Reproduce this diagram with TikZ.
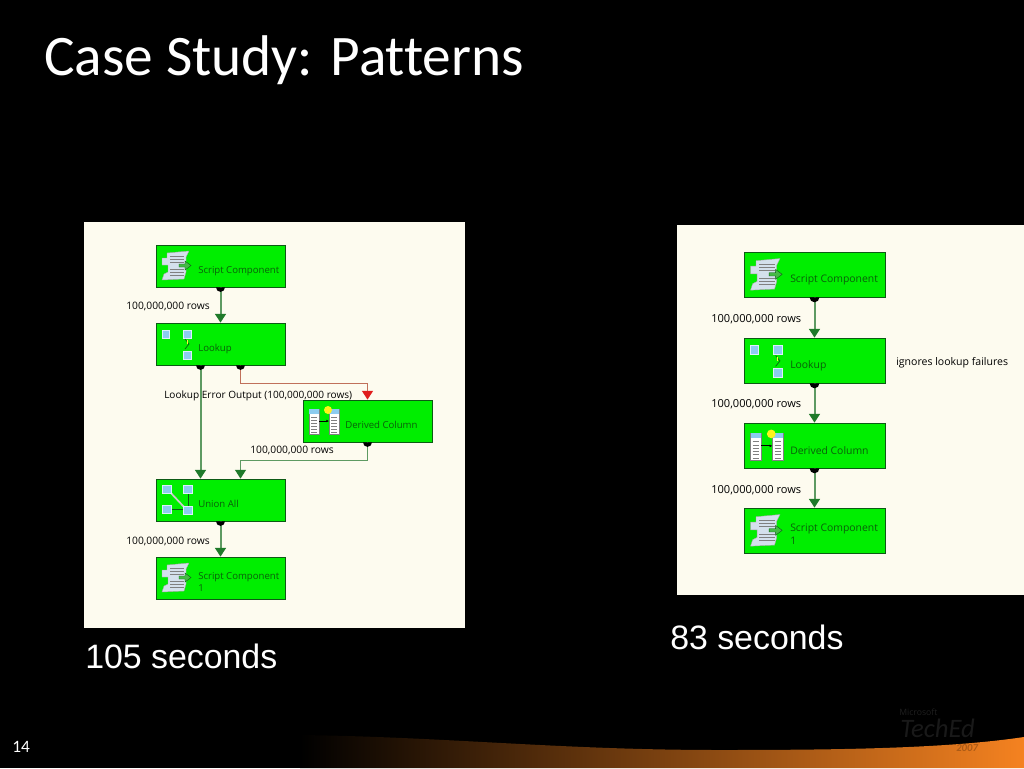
\documentclass[tikz,border=0pt]{standalone}
\usepackage{fontspec}
\setmainfont{Open Sans}
\newfontfamily\titlefont[Ligatures=NoCommon]{Carlito}
\newfontfamily\capfont{Liberation Sans}
\usetikzlibrary{arrows.meta}
\definecolor{panel}{HTML}{FDFBEF}
\definecolor{boxgreen}{HTML}{00EE00}
\definecolor{boxline}{HTML}{0C5A14}
\definecolor{boxtext}{HTML}{0B5E0B}
\definecolor{linegreen}{HTML}{5E9A62}
\definecolor{tipgreen}{HTML}{1F7A2A}
\definecolor{linered}{HTML}{C0705A}
\definecolor{tipred}{HTML}{E01E1E}
\definecolor{swoosh}{HTML}{F58220}
\definecolor{cube}{HTML}{8CCCF0}
\definecolor{scroll}{HTML}{D4E0EC}
\tikzset{
  box/.style={draw=boxline,fill=boxgreen,line width=0.55pt,minimum width=96.75pt,minimum height=31.5pt,inner sep=0pt},
  bigbox/.style={box,minimum width=105.75pt,minimum height=33.75pt},
  boxname/.style={anchor=west,inner sep=0pt,align=left,text=boxtext,font=\fontsize{7.2}{9.4}\selectfont},
  bigboxname/.style={boxname,font=\fontsize{7.8}{10}\selectfont},
  rowcount/.style={anchor=west,inner sep=0pt,text=black,font=\fontsize{7.7}{9}\selectfont},
  bigrowcount/.style={rowcount,font=\fontsize{8.3}{10}\selectfont},
  flow/.style={draw=linegreen,line width=1.5pt,-{Triangle[tipgreen,width=8pt,length=6.5pt]}},
  errflow/.style={draw=linered,line width=1.3pt,-{Triangle[tipred,width=8pt,length=6.5pt]}},
  timing/.style={anchor=west,inner sep=0pt,text=white,font=\capfont\fontsize{25.4}{30}\selectfont},
  cubeicon/.style={fill=cube,draw=white!70!cube,line width=0.4pt},
  pics/port/.style={code={\fill[black] (-4.5,0) arc (180:0:4.5);}},
  pics/scripticon/.style={code={
    \fill[scroll,draw=gray!70,line width=0.3pt] (11,8) -- (33,6) -- (30,12) -- (30,27) -- (28,34) -- (6,35) -- (8,29) -- (12,27) -- (12,20) -- (6,20) -- (6,13) -- (11,13) -- cycle;
    \foreach \y in {11,14,17,24,27,30} \draw[gray,line width=0.4pt] (14,\y) -- (28,\y);
    \fill[green!45!gray,draw=boxline,line width=0.3pt] (23,19) -- (29,19) -- (29,16) -- (35,20.5) -- (29,25) -- (29,22) -- (23,22) -- cycle;
  }},
  pics/lookupicon/.style={code={
    \path[cubeicon] (6,7) rectangle (13,15);
    \path[cubeicon] (27,7) rectangle (35,15);
    \path[cubeicon] (27,28) rectangle (35,36);
    \draw[boxline,line width=0.5pt] (29,16) -- (33,21) -- (29,26);
    \draw[yellow!80!white,line width=0.5pt] (31,17) -- (31,21);
  }},
  pics/unionicon/.style={code={
    \draw[gray!40!white,line width=1.3pt] (13,12) -- (29,29);
    \draw[boxline,line width=0.6pt] (32,12) -- (32,29) (12,30) -- (28,30);
    \path[cubeicon] (6,6) rectangle (15,14);
    \path[cubeicon] (27,6) rectangle (36,14);
    \path[cubeicon] (6,26) rectangle (15,34);
    \path[cubeicon] (27,27) rectangle (36,35);
  }},
  pics/derivedicon/.style={code={
    \foreach \x in {6,26} {
      \fill[white,draw=gray,line width=0.3pt] (\x,9) rectangle (\x+10,34);
      \fill[cube] (\x,9) rectangle (\x+10,14);
      \foreach \y in {17,20,23,26,29,32} \draw[gray,line width=0.4pt] (\x+2,\y) -- (\x+8,\y);
    }
    \draw[black,line width=0.6pt,-{Latex[length=2pt,width=2pt]}] (16,21) -- (26,21);
    \fill[yellow!90!white] (25,10) circle (4);
  }}
}
\begin{document}
\begin{tikzpicture}[x=0.75pt,y=-0.75pt]
  \useasboundingbox (0,0) rectangle (1024,768);
  \fill[black] (0,0) rectangle (1024,768);
  % footer band
  \shade[left color=black,middle color=swoosh!82!black,right color=swoosh] (300,735) .. controls (450,737) and (560,750) .. (720,750) .. controls (850,750) and (950,748) .. (1024,737) -- (1024,768) -- (300,768) -- cycle;
  \node[anchor=west,inner sep=0pt,text=white!12!black,font=\fontsize{6.5}{8}\selectfont] (ms) at (899,712) {Microsoft};
  \node[anchor=west,inner sep=0pt,text=white!10!black,font=\titlefont\itshape\fontsize{20}{22}\selectfont] (teched) at (900,728) {TechEd};
  \node[anchor=west,inner sep=0pt,text=swoosh!70!black,font=\titlefont\bfseries\itshape\fontsize{8}{9}\selectfont] (year) at (956,748) {2007};
  \node[anchor=west,inner sep=0pt,text=white,font=\titlefont\fontsize{13}{15}\selectfont] (page) at (12,747) {14};
  \node[anchor=west,inner sep=0pt,text=white,font=\titlefont\fontsize{43}{48}\selectfont] (title) at (44,60) {Case Study: Patterns};
  % left panel
  \fill[panel] (84,222) rectangle (465,628);
  \node[box] (script) at (220.5,266) {};
  \node[box] (lookup) at (220.5,344) {};
  \node[box] (derived) at (367.5,421) {};
  \node[box] (union) at (220.5,500) {};
  \node[box] (script1) at (220.5,578) {};
  \pic at (156,245) {scripticon};
  \pic at (156,323) {lookupicon};
  \pic at (303,400) {derivedicon};
  \pic at (156,479) {unionicon};
  \pic at (156,557) {scripticon};
  \node[boxname] (scriptname) at (198,271) {Script Component};
  \node[boxname] (lookupname) at (198,349) {Lookup};
  \node[boxname] (derivedname) at (345,425) {Derived Column};
  \node[boxname] (unionname) at (198,504) {Union All};
  \node[boxname] (script1name) at (198,582) {Script Component\\1};
  \draw[flow] (script) to (lookup);
  \draw[flow] ([xshift=-15pt]lookup.south) to ([xshift=-15pt]union.north);
  \draw[errflow] ([xshift=15pt]lookup.south) -- ++(0,18) -| (derived.north);
  \draw[flow,line width=1.1pt] (derived.south) -- ++(0,18) -| ([xshift=15pt]union.north);
  \draw[flow] (union) to (script1);
  \pic at (script.south) {port};
  \pic at ([xshift=-15pt]lookup.south) {port};
  \pic at ([xshift=15pt]lookup.south) {port};
  \pic at (derived.south) {port};
  \pic at (union.south) {port};
  \node[rowcount] (rowsa) at (126,306) {100,000,000 rows};
  \node[rowcount,font=\fontsize{7.55}{9}\selectfont] (rowserr) at (164,396) {Lookup Error Output (100,000,000 rows)};
  \node[rowcount] (rowsb) at (250,450) {100,000,000 rows};
  \node[rowcount] (rowsc) at (126,541) {100,000,000 rows};
  \node[timing] (timea) at (85,656) {105 seconds};
  % right panel
  \fill[panel] (677,225) rectangle (1024,595);
  \node[bigbox] (rscript) at (814.5,274.5) {};
  \node[bigbox] (rlookup) at (814.5,360.5) {};
  \node[bigbox] (rderived) at (814.5,445.5) {};
  \node[bigbox] (rscript1) at (814.5,530.5) {};
  \pic[scale=1.09] at (744,252) {scripticon};
  \pic[scale=1.09] at (744,338) {lookupicon};
  \pic[scale=1.09] at (744,423) {derivedicon};
  \pic[scale=1.09] at (744,508) {scripticon};
  \node[bigboxname] (rscriptname) at (790,280) {Script Component};
  \node[bigboxname] (rlookupname) at (790,366) {Lookup};
  \node[bigboxname] (rderivedname) at (790,451) {Derived Column};
  \node[bigboxname] (rscript1name) at (790,534) {Script Component\\1};
  \draw[flow] (rscript) to (rlookup);
  \draw[flow] (rlookup) to (rderived);
  \draw[flow] (rderived) to (rscript1);
  \pic[scale=1.09] at (rscript.south) {port};
  \pic[scale=1.09] at (rlookup.south) {port};
  \pic[scale=1.09] at (rderived.south) {port};
  \node[bigrowcount] (rrowsa) at (711,319) {100,000,000 rows};
  \node[bigrowcount,font=\fontsize{7.9}{10}\selectfont] (rnote) at (896,363) {ignores lookup failures};
  \node[bigrowcount] (rrowsb) at (711,404) {100,000,000 rows};
  \node[bigrowcount] (rrowsc) at (711,490) {100,000,000 rows};
  \node[timing] (timeb) at (670,637) {83 seconds};
\end{tikzpicture}
\end{document}
